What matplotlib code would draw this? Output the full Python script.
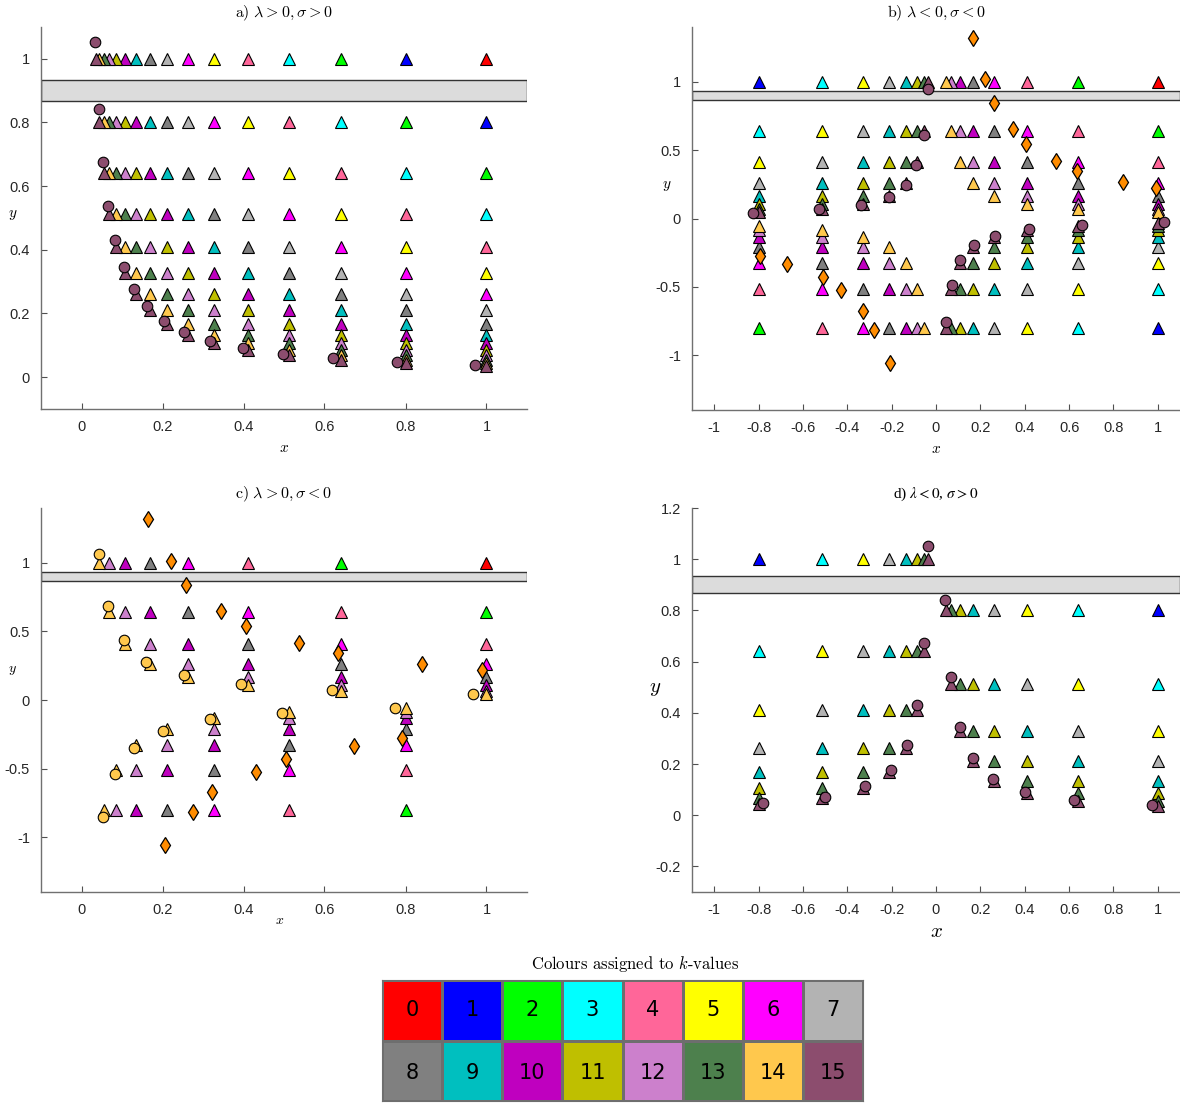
import matplotlib
matplotlib.use("Agg")
import matplotlib.pyplot as plt
from matplotlib.colors import ListedColormap

plt.rcParams["mathtext.fontset"] = "cm"
plt.rcParams["font.family"] = ["Liberation Sans", "DejaVu Sans"]

# colour of every k-value (0..15)
K_COLOURS = ["#ff0000", "#0000ff", "#00ff00", "#00ffff", "#ff6699", "#ffff00",
             "#ff00ff", "#b3b3b3", "#808080", "#00bfbf", "#bf00bf", "#bfbf00",
             "#cc80cc", "#4d804d", "#ffc84d", "#8c4d6e"]
DIAMOND_COLOUR = "#ff8c00"

# column / row positions of the triangles
POS_LEVELS = [1.0, 0.8, 0.64, 0.512, 0.41, 0.328, 0.262, 0.21, 0.168,
              0.134, 0.107, 0.086, 0.069, 0.055, 0.044, 0.035]
ALT_LEVELS = [1.0, -0.8, 0.64, -0.512, 0.41, -0.328, 0.262, -0.21, 0.168,
              -0.134, 0.107, -0.086, 0.069, -0.055, 0.044, -0.035]

# grey band
BAND = (0.867, 0.934)

# circles (panel a, k=15)
a_circ_x = [0.033, 0.042, 0.053, 0.066, 0.083, 0.104, 0.13, 0.162,
            0.203, 0.253, 0.318, 0.398, 0.498, 0.621, 0.778, 0.972]
a_circ_y = [1.054, 0.843, 0.675, 0.539, 0.432, 0.346, 0.276, 0.222,
            0.177, 0.142, 0.113, 0.091, 0.074, 0.06, 0.049, 0.039]

# circles (panel b, k=15)
b_circ_x = [-0.036, -0.056, -0.088, -0.136, -0.213, -0.337, -0.526, -0.824,
            1.028, 0.658, 0.42, 0.268, 0.171, 0.11, 0.071, 0.044]
b_circ_y = [0.949, 0.608, 0.389, 0.248, 0.16, 0.102, 0.068, 0.041,
            -0.029, -0.051, -0.078, -0.127, -0.197, -0.307, -0.485, -0.755]
# diamonds (panel b)
b_dia_x = [0.166, 0.219, 0.26, 0.345, 0.407, 0.54, 0.635, 0.844, 0.99,
           -0.795, -0.673, -0.508, -0.43, -0.328, -0.278, -0.209]
b_dia_y = [1.318, 1.022, 0.842, 0.654, 0.542, 0.418, 0.348, 0.27, 0.223,
           -0.273, -0.331, -0.428, -0.523, -0.674, -0.813, -1.054]

# circles (panel c, k=14)
c_circ_x = [0.042, 0.066, 0.104, 0.16, 0.252, 0.395, 0.618, 0.966,
            0.773, 0.495, 0.317, 0.202, 0.13, 0.083, 0.052]
c_circ_y = [1.068, 0.684, 0.438, 0.28, 0.18, 0.115, 0.075, 0.046,
            -0.058, -0.092, -0.141, -0.224, -0.35, -0.542, -0.852]
# diamonds (panel c)
c_dia_x = [0.165, 0.22, 0.259, 0.344, 0.406, 0.537, 0.634, 0.841, 0.99,
           0.792, 0.672, 0.506, 0.43, 0.323, 0.275, 0.206]
c_dia_y = [1.319, 1.017, 0.839, 0.65, 0.54, 0.418, 0.345, 0.265, 0.221,
           -0.275, -0.334, -0.43, -0.523, -0.674, -0.815, -1.056]

# circles (panel d, k=15)
d_circ_x = [-0.035, 0.042, -0.053, 0.067, -0.085, 0.106, -0.132, 0.166,
            -0.205, 0.257, -0.322, 0.399, -0.5, 0.624, -0.78, 0.975]
d_circ_y = [1.053, 0.842, 0.674, 0.54, 0.431, 0.345, 0.275, 0.222,
            0.176, 0.141, 0.113, 0.09, 0.072, 0.0575, 0.046, 0.038]

X_TICKS_POS = [0, 0.2, 0.4, 0.6, 0.8, 1]
X_TICKS_ALL = [-1, -0.8, -0.6, -0.4, -0.2, 0, 0.2, 0.4, 0.6, 0.8, 1]
Y_TICKS_A = [0, 0.2, 0.4, 0.6, 0.8, 1]
Y_TICKS_BC = [-1, -0.5, 0, 0.5, 1]
Y_TICKS_D = [-0.2, 0, 0.2, 0.4, 0.6, 0.8, 1, 1.2]

W, H = 1180, 1103
fig = plt.figure(figsize=(W / 100, H / 100), dpi=100)


def box(l, t, r, b):
    # pixel box -> figure fraction
    return [l / W, (H - b) / H, (r - l) / W, (b - t) / H]


def panel(ax, xl, yl, parity, kmax, circ, circ_k, dia, title, title_kw,
          xlim, ylim, xticks, yticks, xlab_pos, ylab_pos, lab_size):
    ax.axhspan(BAND[0], BAND[1], facecolor="#dcdcdc", edgecolor="#333333",
               lw=1.0, zorder=1)
    # triangles: column i, row j, k = i + j
    for k in range(kmax + 1):
        if parity is not None and k % 2 != parity:
            continue
        xs, ys = [], []
        for i in range(k + 1):
            xs.append(xl[i])
            ys.append(yl[k - i])
        ax.plot(xs, ys, "^", ms=8.8, mfc=K_COLOURS[k], mec="black",
                mew=0.8, ls="none", zorder=2)
    ax.plot(circ[0], circ[1], "o", ms=7.6, mfc=K_COLOURS[circ_k],
            mec="black", mew=0.8, ls="none", zorder=3)
    if dia is not None:
        ax.plot(dia[0], dia[1], "d", ms=8.5, mfc=DIAMOND_COLOUR, mec="black",
                mew=0.9, ls="none", zorder=4)
    ax.set_xlim(*xlim)
    ax.set_ylim(*ylim)
    ax.set_xticks(xticks)
    ax.set_xticklabels([f"{v:g}" for v in xticks])
    ax.set_yticks(yticks)
    ax.set_yticklabels([f"{v:g}" for v in yticks])
    for s in ("top", "right"):
        ax.spines[s].set_visible(False)
    for s in ("left", "bottom"):
        ax.spines[s].set_color("#707070")
        ax.spines[s].set_linewidth(1.0)
    ax.tick_params(direction="in", length=4, width=0.8, color="#505050",
                   labelsize=10.5, labelcolor="#262626", pad=8)
    ax.set_title(title, pad=7, **title_kw)
    ax.set_xlabel("$x$", fontsize=lab_size)
    ax.set_ylabel("$y$", fontsize=lab_size, rotation=0, va="center")
    ax.xaxis.set_label_coords(*xlab_pos)
    ax.yaxis.set_label_coords(*ylab_pos)


ax_a = fig.add_axes(box(41, 27, 527, 409))
ax_b = fig.add_axes(box(692, 27, 1180, 410))
ax_c = fig.add_axes(box(41, 508, 527, 892))
ax_d = fig.add_axes(box(692, 508, 1180, 892))

cm_title = dict(fontsize=11.5)
panel(ax_a, POS_LEVELS, POS_LEVELS, None, 15, (a_circ_x, a_circ_y), 15, None,
      r"$\mathrm{a)}\ \lambda > 0, \sigma > 0$", cm_title,
      (-0.1, 1.1), (-0.1, 1.1), X_TICKS_POS, Y_TICKS_A,
      (0.5, -0.084), (-0.058, 0.508), 11)
panel(ax_b, ALT_LEVELS, ALT_LEVELS, None, 15, (b_circ_x, b_circ_y), 15,
      (b_dia_x, b_dia_y),
      r"$\mathrm{b)}\ \lambda < 0, \sigma < 0$", cm_title,
      (-1.1, 1.1), (-1.4, 1.4), X_TICKS_ALL, Y_TICKS_BC,
      (0.5, -0.084), (-0.051, 0.585), 11)
panel(ax_c, POS_LEVELS, ALT_LEVELS, 0, 14, (c_circ_x, c_circ_y), 14,
      (c_dia_x, c_dia_y),
      r"$\mathrm{c)}\ \lambda > 0, \sigma < 0$", cm_title,
      (-0.1, 1.1), (-1.4, 1.4), X_TICKS_POS, Y_TICKS_BC,
      (0.49, -0.055), (-0.058, 0.578), 10)
panel(ax_d, ALT_LEVELS, POS_LEVELS, 1, 15, (d_circ_x, d_circ_y), 15, None,
      r"d) $\lambda < 0$, $\sigma > 0$",
      dict(fontsize=11, fontfamily="Liberation Serif"),
      (-1.1, 1.1), (-0.3, 1.2), X_TICKS_ALL, Y_TICKS_D,
      (0.5, -0.078), (-0.076, 0.531), 15)
ax_d.title.set_math_fontfamily("stix")

# colour key
ax_k = fig.add_axes(box(382, 980, 863, 1101))
grid = [list(range(0, 8)), list(range(8, 16))]
ax_k.pcolormesh(grid, cmap=ListedColormap(K_COLOURS), vmin=-0.5, vmax=15.5,
                edgecolors="#6e6e6e", linewidth=1.0)
ax_k.set_xlim(0, 8)
ax_k.set_ylim(2, 0)
for r, row in enumerate(grid):
    for c, k in enumerate(row):
        ax_k.text(c + 0.5, r + 0.5 + 0.03 * r, str(k), ha="center",
                  va="center", fontsize=15, fontfamily="DejaVu Sans",
                  color="black")
ax_k.set_xticks([])
ax_k.set_yticks([])
for s in ax_k.spines.values():
    s.set_color("#6e6e6e")
fig.text(635 / W, 1 - 964 / H, r"Colours assigned to $k$-values",
         ha="center", va="center", fontsize=12, fontfamily="cmr10")

fig.savefig("out.png", dpi=100)
